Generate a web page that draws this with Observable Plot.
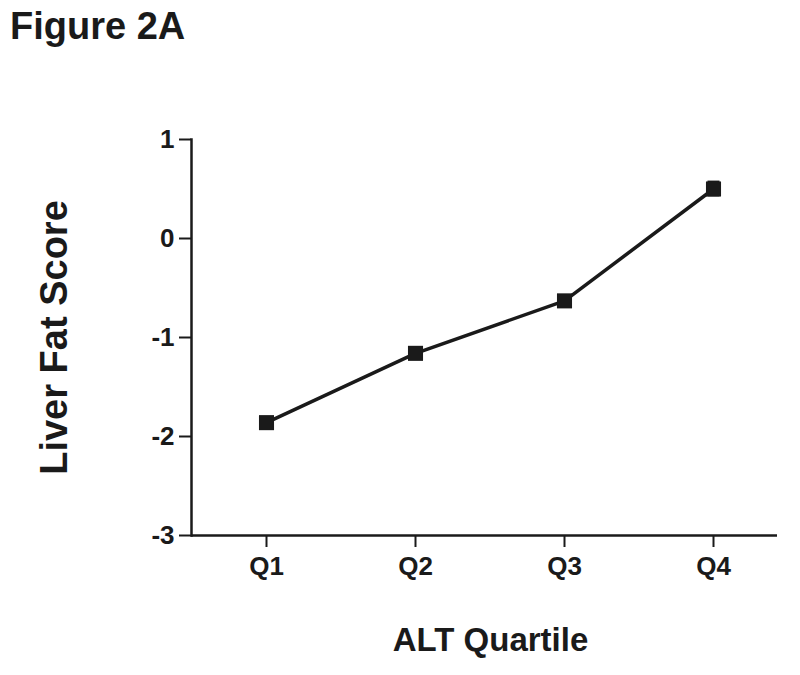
<!DOCTYPE html>
<html>
<head>
<meta charset="utf-8">
<script src="https://cdn.jsdelivr.net/npm/d3@7"></script>
<script src="https://cdn.jsdelivr.net/npm/@observablehq/plot@0.6"></script>
<style>
  body { margin: 0; background: #fff; font-family: "Liberation Sans", Arial, sans-serif; }
  #wrap { position: relative; width: 800px; height: 675px; }
  #title { position: absolute; left: 10px; top: 5px; font-size: 38px; font-weight: bold; color: #1a1a1a; }
</style>
</head>
<body>
<div id="wrap">
  <div id="title">Figure 2A</div>
</div>
<script>
const quartiles = ["Q1", "Q2", "Q3", "Q4"];
const means = [-1.86, -1.16, -0.63, 0.50];
const errors = [0.05, 0.03, 0.03, 0.08];
const yTicks = [-3, -2, -1, 0, 1];

const data = quartiles.map((q, i) => ({q, v: means[i], lo: means[i] - errors[i], hi: means[i] + errors[i]}));
const ink = "#1a1a1a";

const chart = Plot.plot({
  width: 800,
  height: 675,
  marginTop: 139,
  marginBottom: 140,
  marginLeft: 191,
  marginRight: 23,
  style: {fontFamily: "'Liberation Sans', Arial, sans-serif", color: ink, background: "white"},
  x: {type: "point", domain: quartiles, padding: 0.458, align: 0.54, label: null},
  y: {domain: [-3, 1], label: null},
  marks: [
    Plot.axisX({tickSize: 12, tickPadding: 9, fontSize: 26, fontWeight: "bold", stroke: ink, strokeWidth: 2, fill: ink, label: null}),
    Plot.axisY({ticks: yTicks, tickFormat: d => String(d), tickSize: 12, tickPadding: 5, fontSize: 26, fontWeight: "bold", stroke: ink, strokeWidth: 2, fill: ink, label: null}),
    Plot.ruleY([-3], {stroke: ink, strokeWidth: 2.5}),
    Plot.frame({anchor: "left", stroke: ink, strokeWidth: 2.5}),
    Plot.line(data, {x: "q", y: "v", stroke: ink, strokeWidth: 3.5}),
    Plot.ruleX(data, {x: "q", y1: "lo", y2: "hi", stroke: ink, strokeWidth: 12}),
    Plot.dot(data, {x: "q", y: "v", symbol: "square", r: 8.5, fill: ink, stroke: null}),
    Plot.text(["Liver Fat Score"], {frameAnchor: "left", textAnchor: "middle", rotate: -90, dx: -137, fontSize: 38, fontWeight: "bold", fill: ink}),
    Plot.text(["ALT Quartile"], {frameAnchor: "bottom", textAnchor: "middle", dx: 6, dy: 115, fontSize: 33, fontWeight: "bold", fill: ink})
  ]
});
document.getElementById("wrap").appendChild(chart);
</script>
</body>
</html>
